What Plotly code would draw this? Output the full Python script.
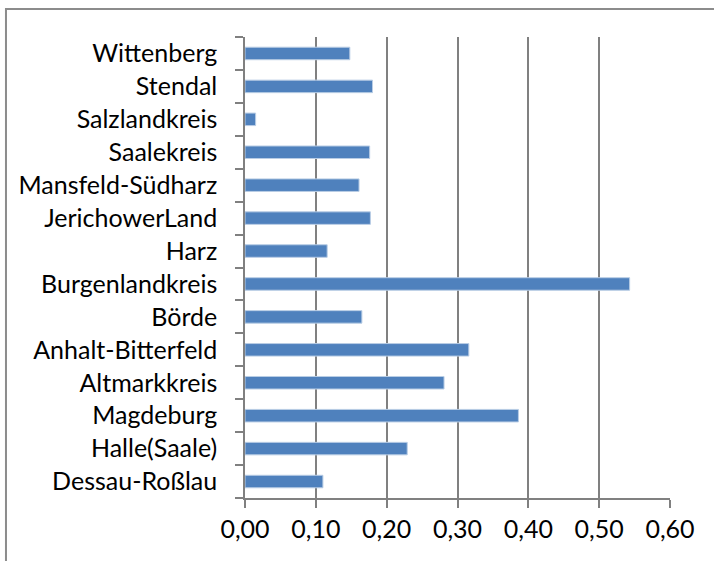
import plotly.graph_objects as go

# Kreise, von unten nach oben wie im Diagramm
kreise = [
    "Dessau-Roßlau", "Halle(Saale)", "Magdeburg", "Altmarkkreis",
    "Anhalt-Bitterfeld", "Börde", "Burgenlandkreis", "Harz",
    "JerichowerLand", "Mansfeld-Südharz", "Saalekreis", "Salzlandkreis",
    "Stendal", "Wittenberg",
]
werte = [
    0.110, 0.229, 0.386, 0.281,
    0.316, 0.165, 0.543, 0.116,
    0.177, 0.161, 0.176, 0.015,
    0.180, 0.148,
]
x_ticks = [0.0, 0.1, 0.2, 0.3, 0.4, 0.5, 0.6]

BAR_COLOR = "#4F81BD"
GRID = "#808080"
FONT = "Lato, 'Open Sans', sans-serif"

fig = go.Figure(go.Bar(
    x=werte, y=kreise, orientation="h",
    marker=dict(color=BAR_COLOR, line=dict(color="#B9CDE5", width=1)),
))

fig.update_xaxes(
    range=[0, 0.6], tickvals=x_ticks, tickformat=".2f",
    showgrid=True, gridcolor=GRID, gridwidth=1.5,
    showline=True, linecolor=GRID, linewidth=1.5,
    ticks="outside", ticklen=8, tickcolor=GRID, tickwidth=1.5,
    ticklabelstandoff=0, automargin=False,
    tickfont=dict(size=25, color="black", family=FONT),
    zeroline=False,
)
fig.update_yaxes(
    showgrid=False, showline=True, linecolor=GRID, linewidth=1.5,
    ticks="outside", ticklen=8, tickcolor=GRID, tickwidth=1.5,
    tickson="boundaries", automargin=False,
    ticklabelstandoff=21,
    tickfont=dict(size=25, color="black", family=FONT),
)

# äußerer Diagrammrahmen (rechts/unten abgeschnitten)
fig.add_shape(
    type="rect", xref="paper", yref="paper",
    x0=-0.5624, x1=1.5, y0=-0.5, y1=1.0607,
    line=dict(color="#8C8C8C", width=2), layer="below",
)

fig.update_layout(
    width=714, height=561,
    margin=dict(l=245, r=44, t=37, b=63),
    paper_bgcolor="white", plot_bgcolor="white",
    bargap=0.62, separators=",.",
    showlegend=False,
    font=dict(family=FONT, color="black"),
)

# Seitenrand des Browsers entfernen, damit die Grafik bei (0,0) beginnt
fig.write_html(
    "out.html",
    config={"displayModeBar": False},
    post_script="document.body.style.margin='0';",
)
